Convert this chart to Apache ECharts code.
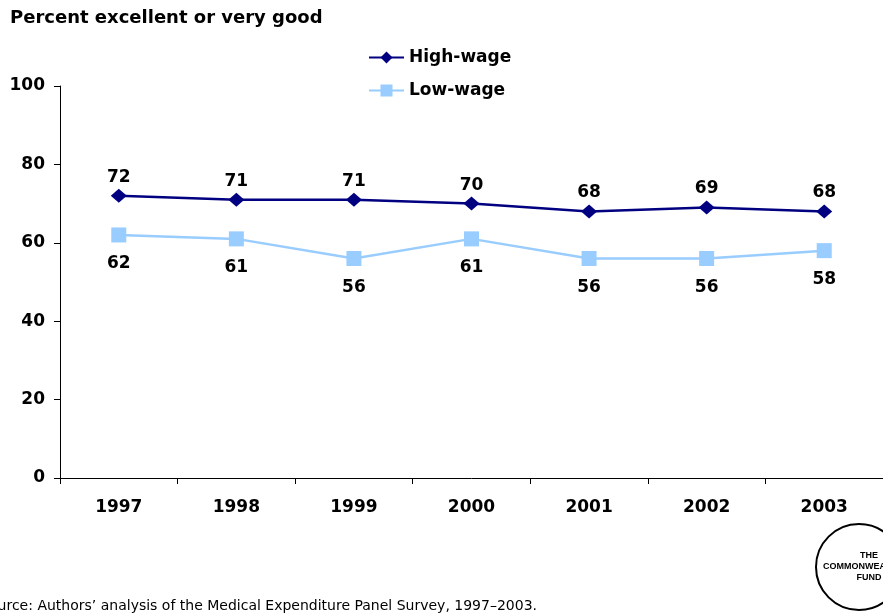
<!DOCTYPE html>
<html>
<head>
<meta charset="utf-8">
<script src="https://cdn.jsdelivr.net/npm/echarts@6/dist/echarts.min.js"></script>
<style>
  html, body { margin: 0; padding: 0; background: #fff; }
  #chart { width: 883px; height: 614px; }
</style>
</head>
<body>
<div id="chart"></div>
<script>
// Self-rated health by wage group, 1997–2003
const years = ['1997', '1998', '1999', '2000', '2001', '2002', '2003'];
const highWage = [72, 71, 71, 70, 68, 69, 68];
const lowWage = [62, 61, 56, 61, 56, 56, 58];
const yTicks = { min: 0, max: 100, interval: 20 };

const FONT = 'DejaVu Sans';
const chart = echarts.init(document.getElementById('chart'), null, { renderer: 'canvas' });

chart.setOption({
  backgroundColor: '#ffffff',
  animation: false,
  grid: { left: 60, top: 86, bottom: 136, width: 828, containLabel: false },
  legend: {
    orient: 'vertical',
    left: 363,
    top: 44,
    itemGap: 16,
    itemWidth: 35,
    itemHeight: 15,
    textStyle: { fontFamily: FONT, fontWeight: 'bold', fontSize: 17, color: '#000' },
    data: ['High-wage', 'Low-wage']
  },
  xAxis: {
    type: 'category',
    data: years,
    boundaryGap: true,
    axisLine: { lineStyle: { color: '#000', width: 1 } },
    axisTick: { show: true, length: 6, lineStyle: { color: '#000' } },
    axisLabel: { margin: 21, fontFamily: FONT, fontWeight: 'bold', fontSize: 17, color: '#000' }
  },
  yAxis: {
    type: 'value',
    min: yTicks.min,
    max: yTicks.max,
    interval: yTicks.interval,
    splitLine: { show: false },
    axisLine: { show: true, lineStyle: { color: '#000', width: 1 } },
    axisTick: { show: true, length: 6, lineStyle: { color: '#000' } },
    axisLabel: { margin: 15, fontFamily: FONT, fontWeight: 'bold', fontSize: 17, color: '#000' }
  },
  series: [
    {
      name: 'High-wage',
      type: 'line',
      data: highWage,
      symbol: 'diamond',
      symbolSize: [16, 14],
      lineStyle: { color: '#000080', width: 2.5 },
      itemStyle: { color: '#000080' },
      label: {
        show: true, position: 'top', distance: 3,
        fontFamily: FONT, fontWeight: 'bold', fontSize: 17, color: '#000'
      }
    },
    {
      name: 'Low-wage',
      type: 'line',
      data: lowWage,
      symbol: 'rect',
      symbolSize: 15,
      lineStyle: { color: '#99ccff', width: 2.5 },
      itemStyle: { color: '#99ccff' },
      label: {
        show: true, position: 'bottom', distance: 13,
        fontFamily: FONT, fontWeight: 'bold', fontSize: 17, color: '#000'
      }
    }
  ],
  graphic: [
    {
      type: 'text', left: 10, top: 9,
      style: { text: 'Percent excellent or very good', fontFamily: FONT, fontWeight: 'bold', fontSize: 18, fill: '#000' }
    },
    {
      type: 'text',
      style: {
        x: 537, y: 606, text: 'Source: Authors\u2019 analysis of the Medical Expenditure Panel Survey, 1997\u20132003.',
        textAlign: 'right', textVerticalAlign: 'middle',
        fontFamily: FONT, fontSize: 14, fill: '#000'
      }
    },
    {
      type: 'circle',
      shape: { cx: 859, cy: 567, r: 43 },
      style: { fill: '#fff', stroke: '#000', lineWidth: 2 }
    },
    {
      type: 'text',
      style: { x: 869, y: 556, text: 'THE', textAlign: 'center', textVerticalAlign: 'middle', fontFamily: 'Liberation Sans', fontWeight: 'bold', fontSize: 9, fill: '#000' }
    },
    {
      type: 'text',
      style: { x: 823, y: 567, text: 'COMMONWEALTH', textAlign: 'left', textVerticalAlign: 'middle', fontFamily: 'Liberation Sans', fontWeight: 'bold', fontSize: 9, fill: '#000' }
    },
    {
      type: 'text',
      style: { x: 869, y: 578, text: 'FUND', textAlign: 'center', textVerticalAlign: 'middle', fontFamily: 'Liberation Sans', fontWeight: 'bold', fontSize: 9, fill: '#000' }
    }
  ]
});
</script>
</body>
</html>
